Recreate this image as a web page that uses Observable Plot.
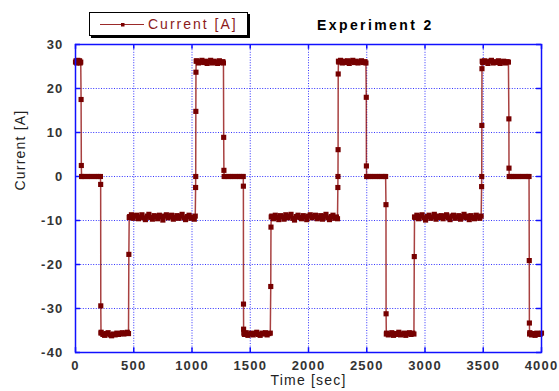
<!DOCTYPE html>
<html><head><meta charset="utf-8">
<script src="https://cdn.jsdelivr.net/npm/d3@7"></script>
<script src="https://cdn.jsdelivr.net/npm/@observablehq/plot@0.6"></script>
<style>
body{margin:0;background:#fff;}
#wrap{position:relative;width:559px;height:391px;font-family:"Liberation Sans",Arial,sans-serif;}
#title{position:absolute;left:317px;top:17px;font-weight:bold;font-size:14px;letter-spacing:2.4px;color:#000;}
#legend{position:absolute;left:89px;top:12px;width:157px;height:22px;border:1px solid #000;background:#fff;box-shadow:2px 2px 0 #000;}
#legend svg{position:absolute;left:0;top:0;}
#legend span{position:absolute;left:58px;top:3px;font-size:14px;letter-spacing:2px;color:#8b1a1a;}
#wrap svg text{letter-spacing:1.2px;}
</style></head>
<body><div id="wrap">
<div id="legend"><svg width="60" height="22"><line x1="10" x2="54" y1="11.5" y2="11.5" stroke="#9b2a2a" stroke-width="1.2"/><rect x="31" y="10" width="3.5" height="3.5" fill="#7a0000"/></svg><span>Current [A]</span></div>
<div id="title">Experiment 2</div>
</div>
<script>
const titleText = "Experiment 2";
const seriesName = "Current [A]";
const xLabel = "Time [sec]";
const yLabel = "Current [A]";
const xTicks = [0, 500, 1000, 1500, 2000, 2500, 3000, 3500, 4000];
const yTicks = [-40, -30, -20, -10, 0, 10, 20, 30];

const time = [
  0,5,10,15,20,25,30,35,40,45,
  48,50,52,
  60,80,100,120,140,160,180,200,214,
  216,217,219,
  220,235,250,265,280,295,310,325,340,355,370,385,400,415,430,445,455,
  458,461,
  465,480,495,510,525,540,555,570,585,600,615,630,645,660,675,690,705,720,735,750,765,780,795,810,825,840,855,870,885,900,915,930,945,960,975,990,1005,1020,1028,
  1031,1032,1033,1034,1036,
  1040,1055,1070,1085,1100,1115,1130,1145,1160,1175,1190,1205,1220,1235,1250,1265,1270,
  1272,1274,1276,
  1290,1310,1330,1350,1370,1390,1410,1430,1440,
  1441,1442,1443,1445,
  1450,1465,1480,1495,1510,1525,1540,1555,1570,1585,1600,1615,1630,1645,1660,1672,
  1676,1678,1680,
  1685,1700,1715,1730,1745,1760,1775,1790,1805,1820,1835,1850,1865,1880,1895,1910,1925,1940,1955,1970,1985,2000,2015,2030,2045,2060,2075,2090,2105,2120,2135,2150,2165,2180,2195,2210,2225,2240,2249,
  2252,2253,2254,2255,2257,
  2260,2275,2290,2305,2320,2335,2350,2365,2380,2395,2410,2425,2440,2455,2470,2485,2493,
  2496,2497,2499,
  2510,2530,2550,2570,2590,2610,2630,2650,2662,
  2665,2666,2668,
  2670,2685,2700,2715,2730,2745,2760,2775,2790,2805,2820,2835,2850,2865,2880,2895,2905,
  2908,2910,
  2915,2930,2945,2960,2975,2990,3005,3020,3035,3050,3065,3080,3095,3110,3125,3140,3155,3170,3185,3200,3215,3230,3245,3260,3275,3290,3305,3320,3335,3350,3365,3380,3395,3410,3425,3440,3455,3470,3482,
  3486,3487,3488,3489,3491,
  3495,3510,3525,3540,3555,3570,3585,3600,3615,3630,3645,3660,3675,3690,3705,3716,
  3720,3721,3723,
  3740,3760,3780,3800,3820,3840,3860,3880,3893,
  3895,3896,3898,
  3900,3915,3930,3945,3960,3975,3990,4000
];
const current = [
  26.0,26.3,25.8,26.2,26.4,25.9,26.1,26.3,25.8,26.0,
  17.5,2.5,0,
  0,0,0,0,0,0,0,0,0,
  -1.8,-29.4,-35.6,
  -35.4,-35.9,-36.1,-35.7,-35.5,-36.0,-36.2,-35.8,-36.0,-35.6,-35.9,-35.7,-35.5,-35.8,-35.6,-35.4,-35.7,
  -17.7,-9.3,
  -9.1,-8.7,-9.5,-9.0,-8.8,-9.6,-9.2,-8.7,-9.4,-9.8,-9.0,-8.6,-9.3,-9.7,-8.9,-9.1,-9.6,-8.8,-9.2,-9.9,-9.0,-8.7,-9.4,-9.1,-8.8,-9.7,-9.3,-8.9,-9.5,-9.0,-8.6,-9.4,-9.8,-9.1,-8.8,-9.5,-9.2,-9.7,-9.0,
  -2.5,0,14.8,23.7,26.2,
  26.3,25.8,26.1,26.4,25.9,26.2,25.7,26.0,26.4,25.8,26.2,26.0,25.7,26.3,25.9,26.1,25.8,
  8.9,1.4,0,
  0,0,0,0,0,0,0,0,0,
  -2.2,-29.0,-34.7,-35.6,
  -35.9,-35.5,-36.1,-35.8,-35.6,-36.0,-35.7,-35.4,-35.9,-36.1,-35.6,-35.8,-35.5,-36.0,-35.7,-35.6,
  -25.0,-11.5,-9.2,
  -9.0,-9.6,-8.8,-9.3,-9.8,-8.9,-9.2,-9.7,-8.7,-9.4,-9.0,-8.6,-9.5,-9.9,-9.1,-8.8,-9.3,-9.6,-8.9,-9.2,-9.8,-9.0,-8.7,-9.4,-9.1,-8.8,-9.6,-9.3,-8.9,-9.7,-9.0,-8.6,-9.4,-9.8,-9.1,-8.8,-9.5,-9.2,-9.6,
  -2.5,0,6.1,23.3,26.2,
  26.0,26.4,25.8,26.2,25.9,26.3,25.7,26.1,26.4,25.9,26.2,25.8,26.0,26.3,25.9,26.1,25.8,
  18.0,2.4,0,
  0,0,0,0,0,0,0,0,0,
  -6.4,-31.2,-35.8,
  -35.6,-36.0,-35.8,-35.5,-36.1,-35.7,-35.9,-35.4,-36.0,-35.8,-35.6,-36.1,-35.7,-35.5,-35.9,-35.6,-35.8,
  -18.2,-9.2,
  -9.3,-8.8,-9.6,-9.0,-8.7,-9.4,-9.9,-9.1,-8.8,-9.5,-9.2,-8.6,-9.7,-9.0,-9.3,-8.9,-9.6,-9.1,-8.7,-9.4,-9.8,-9.0,-8.8,-9.5,-9.2,-8.9,-9.7,-9.1,-8.6,-9.4,-9.0,-9.8,-8.9,-9.3,-9.6,-8.8,-9.2,-9.5,-9.0,
  -2.3,0,11.6,24.5,26.2,
  25.9,26.3,26.0,25.7,26.2,26.4,25.8,26.1,25.9,26.3,25.7,26.0,26.2,25.8,26.1,26.0,
  13.1,1.9,0,
  0,0,0,0,0,0,0,0,0,
  -19.1,-33.3,-35.8,
  -35.5,-36.0,-35.7,-36.1,-35.6,-35.9,-35.8,-35.6
];

const n = Math.min(time.length, current.length);
const data = time.slice(0, n).map((t, i) => ({t, v: current[i]}));
const blue = "#1010ff";
const textFont = "Liberation Sans, Arial, sans-serif";

const chart = Plot.plot({
  width: 559, height: 391,
  marginLeft: 75, marginRight: 18, marginTop: 44, marginBottom: 39,
  style: {fontFamily: textFont, background: "transparent", overflow: "visible"},
  x: {domain: [0, 4000]},
  y: {domain: [-40, 30]},
  marks: [
    Plot.gridX(xTicks, {stroke: blue, strokeOpacity: 0.85, strokeDasharray: "1,1.6", strokeWidth: 1}),
    Plot.gridY(yTicks, {stroke: blue, strokeOpacity: 0.85, strokeDasharray: "1,1.6", strokeWidth: 1}),
    Plot.ruleX(xTicks, {y1: -40, y2: -38.9, stroke: blue, strokeWidth: 1.5}),
    Plot.ruleX(xTicks, {y1: 30, y2: 28.9, stroke: blue, strokeWidth: 1.5}),
    Plot.ruleY(yTicks, {x1: 0, x2: 43, stroke: blue, strokeWidth: 1.5}),
    Plot.ruleY(yTicks, {x1: 3957, x2: 4000, stroke: blue, strokeWidth: 1.5}),
    Plot.line(data, {x: "t", y: "v", stroke: "#8b0000", strokeOpacity: 0.75, strokeWidth: 1.5}),
    Plot.dot(data, {x: "t", y: "v", symbol: "square", r: 2.9, fill: "#760000", stroke: "none"}),
    Plot.frame({stroke: blue, strokeWidth: 1.5}),
    Plot.axisX(xTicks, {tickSize: 0, tickPadding: 8, fontSize: 13, fontWeight: "bold", fill: "#333", label: null, tickFormat: d => String(d)}),
    Plot.axisY(yTicks, {tickSize: 0, tickPadding: 12, fontSize: 13, fontWeight: "bold", fill: "#333", label: null, tickFormat: d => String(d)}),
    Plot.text([xLabel], {frameAnchor: "bottom", dy: 32, fontSize: 14, fill: "#222"}),
    Plot.text([yLabel], {frameAnchor: "left", dx: -55, dy: -8, rotate: -90, fontSize: 14, fill: "#222"})
  ]
});
document.getElementById("wrap").prepend(chart);
</script>
</body></html>
